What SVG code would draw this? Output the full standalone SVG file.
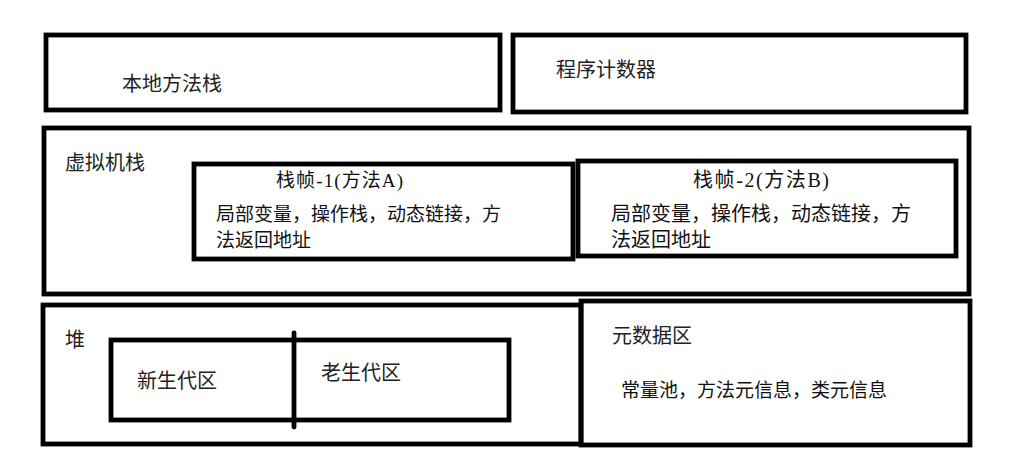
<svg xmlns="http://www.w3.org/2000/svg" width="1031" height="464" viewBox="0 0 1031 464">
<style>
.box{fill:none;stroke:#000;stroke-width:4.8}
.sans{font-family:"Noto Sans CJK SC","Noto Sans",sans-serif;font-size:20px;fill:#222}
.serif{font-family:"Liberation Serif","Noto Sans CJK SC",serif;font-size:19px;fill:#111}
.big{font-size:20px}
</style>
<rect width="1031" height="464" fill="#fff"/>
<g id="native-stack">
<rect class="box" x="46" y="35" width="454" height="75"/>
<text class="sans" x="122" y="91" font-size="21">本地方法栈</text>
</g>
<g id="pc-register">
<rect class="box" x="513" y="35" width="453" height="77"/>
<text class="sans" x="556" y="77" font-size="21">程序计数器</text>
</g>
<g id="vm-stack">
<rect class="box" x="44" y="128" width="925" height="166"/>
<text class="sans" x="65" y="170">虚拟机栈</text>
</g>
<g id="frame-1">
<rect class="box" x="194" y="164" width="379" height="95"/>
<text class="serif" x="276" y="187" textLength="127">栈帧-1(方法A)</text>
<text class="serif" x="216" y="221">局部变量，操作栈，动态链接，方</text>
<text class="serif" x="216" y="247">法返回地址</text>
</g>
<g id="frame-2">
<rect class="box" x="578" y="161" width="378" height="95"/>
<text class="serif big" x="693" y="187" textLength="136">栈帧-2(方法B)</text>
<text class="serif big" x="611" y="221">局部变量，操作栈，动态链接，方</text>
<text class="serif big" x="611" y="247">法返回地址</text>
</g>
<g id="heap">
<rect class="box" x="43" y="305" width="538" height="139"/>
<text class="sans" x="65" y="347" font-size="18">堆</text>
</g>
<g id="generations">
<rect class="box" x="111" y="340" width="398" height="80"/>
<text class="sans" x="137" y="388">新生代区</text>
<text class="sans" x="321" y="380">老生代区</text>
</g>
<g id="connectors">
<line x1="294" y1="333" x2="294" y2="427" stroke="#000" stroke-width="4.8" stroke-linecap="round"/>
</g>
<g id="metaspace">
<rect class="box" x="581" y="301" width="389" height="144"/>
<text class="sans" x="612" y="343">元数据区</text>
<text class="serif" x="621" y="397" font-size="20.3">常量池，方法元信息，类元信息</text>
</g>
</svg>
